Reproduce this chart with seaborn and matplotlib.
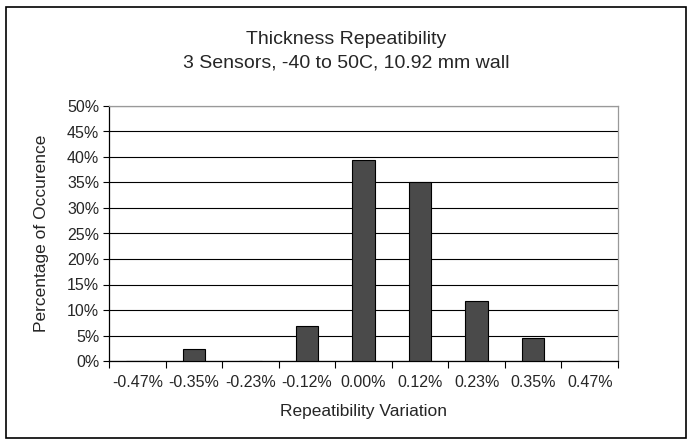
import numpy as np
import pandas as pd
import matplotlib
matplotlib.use("Agg")
import matplotlib.pyplot as plt
import seaborn as sns
from matplotlib.patches import Rectangle

#Data
categories = ["-0.47%", "-0.35%", "-0.23%", "-0.12%", "0.00%", "0.12%", "0.23%", "0.35%", "0.47%"]
pct_occurence = [0.0, 2.3, 0.0, 6.9, 39.5, 35.0, 11.8, 4.6, 0.0]
ytick_vals = [0, 5, 10, 15, 20, 25, 30, 35, 40, 45, 50]
ytick_labels = [f"{v}%" for v in ytick_vals]

df = pd.DataFrame({"Variation": categories, "Pct": pct_occurence})

sns.set_style("white")
plt.rcParams['font.family'] = ['Liberation Sans', 'DejaVu Sans']

fig = plt.figure(figsize=(6.92, 4.44), dpi=100)
ax = fig.add_axes([109/692, 1-361/444, (618-109)/692, (361-106)/444])

sns.barplot(data=df, x="Variation", y="Pct", color="#4a4a4a", width=0.4,
            edgecolor="black", linewidth=0.8, saturation=1, ax=ax, zorder=3)

#Gridlines and axes Excel style
ax.set_ylim(0, 50)
ax.set_xlim(-0.5, len(categories) - 0.5)
ax.set_yticks(ytick_vals)
ax.set_yticklabels(ytick_labels, fontsize=11.5)
ax.yaxis.grid(True, color="black", linewidth=0.8, zorder=0)
ax.set_axisbelow(True)
ax.set_xticks(range(len(categories)))
ax.set_xticklabels(categories, fontsize=11.5)
ax.tick_params(axis="x", length=0, pad=10)
ax.set_xticks(np.arange(-0.5, len(categories), 1), minor=True)
ax.tick_params(axis="x", which="minor", length=5, width=0.8, color="black", direction="out")
ax.tick_params(axis="y", length=4, width=0.8, color="black", direction="out", pad=3)
ax.yaxis.set_ticks_position("left")
ax.xaxis.set_ticks_position("bottom")

for s in ["left", "bottom"]:
    ax.spines[s].set_color("black")
    ax.spines[s].set_linewidth(0.9)
for s in ["top", "right"]:
    ax.spines[s].set_color("#999999")
    ax.spines[s].set_linewidth(0.9)

ax.set_xlabel("Repeatibility Variation", fontsize=12.5)
ax.set_ylabel("Percentage of Occurence", fontsize=12.5)
ax.xaxis.label.set_va("center")
ax.yaxis.label.set_va("center")
ax.xaxis.set_label_coords(0.5, (361-411)/255)
ax.yaxis.set_label_coords((42-109)/509, 0.5)

fig.text(0.5, 1-40/444, "Thickness Repeatibility", ha="center", va="center", fontsize=14)
fig.text(0.5, 1-63/444, "3 Sensors, -40 to 50C, 10.92 mm wall", ha="center", va="center", fontsize=14)

#Outer chart border
fig.patches.append(Rectangle((6/692, 6/444), 680/692, 431/444, transform=fig.transFigure,
                             fill=False, edgecolor="black", linewidth=1.2))

fig.savefig("out.png", dpi=100)
